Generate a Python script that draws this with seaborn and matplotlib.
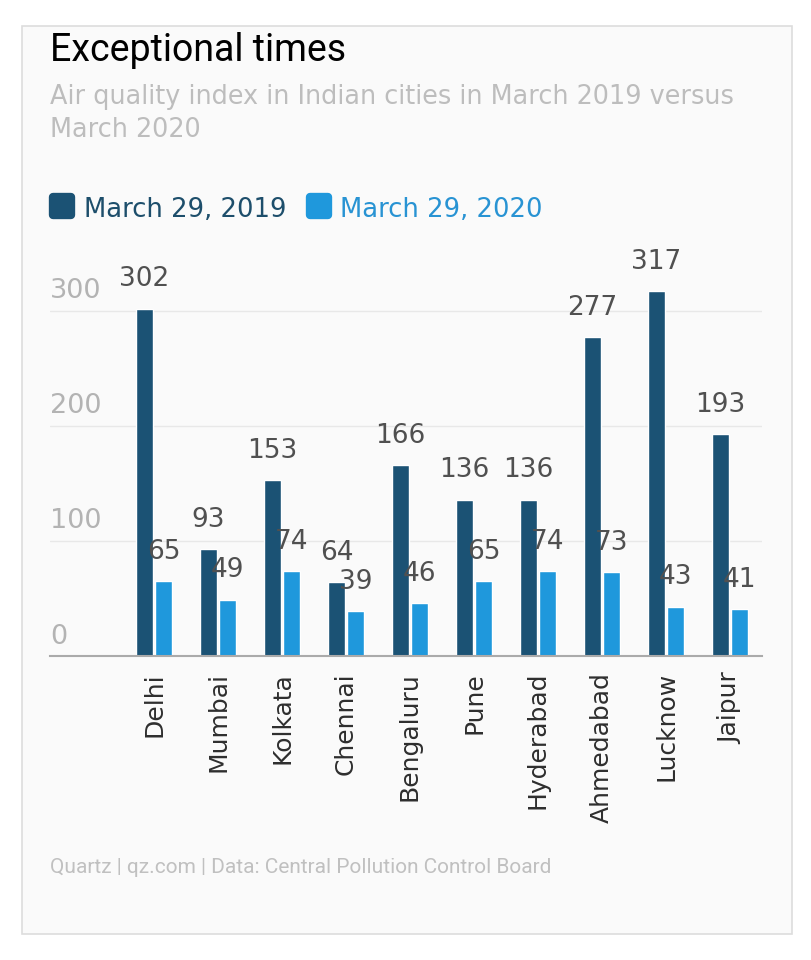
import matplotlib
matplotlib.use("Agg")
import matplotlib.pyplot as plt
import seaborn as sns
import pandas as pd
from matplotlib.patches import FancyBboxPatch, Rectangle
from matplotlib.transforms import blended_transform_factory, offset_copy

# ---- data ----
cities = ["Delhi", "Mumbai", "Kolkata", "Chennai", "Bengaluru", "Pune",
          "Hyderabad", "Ahmedabad", "Lucknow", "Jaipur"]
aqi_2019 = [302, 93, 153, 64, 166, 136, 136, 277, 317, 193]
aqi_2020 = [65, 49, 74, 39, 46, 65, 74, 73, 43, 41]
series = ["March 29, 2019", "March 29, 2020"]
y_ticks = [0, 100, 200, 300]

title = "Exceptional times"
subtitle_lines = ["Air quality index in Indian cities in March 2019 versus", "March 2020"]
footer = "Quartz | qz.com | Data: Central Pollution Control Board"

dark = "#1b5274"
light = "#1f98dc"
legend_text_colors = ["#1d4e6b", "#2893d3"]

df = pd.DataFrame({
    "city": cities * 2,
    "aqi": aqi_2019 + aqi_2020,
    "series": [series[0]] * len(cities) + [series[1]] * len(cities),
})

sns.set_theme(style="white")
plt.rcParams["font.family"] = ["DejaVu Sans"]

W, H = 811, 960
fig = plt.figure(figsize=(W / 100, H / 100), dpi=100)
fig.patch.set_facecolor("white")

card = Rectangle((22 / W, 1 - 934 / H), (792 - 22) / W, (934 - 26) / H,
                 transform=fig.transFigure, facecolor="#fafafa",
                 edgecolor="#dddddd", lw=1.2, zorder=-5)
fig.patches.append(card)

ax = fig.add_axes([50 / W, (H - 656) / H, (762 - 50) / W, (656 - 276) / H])
ax.set_facecolor("none")
ax.set_zorder(2)

sns.barplot(data=df, x="city", y="aqi", hue="series", order=cities,
            hue_order=series, palette=[dark, light], width=0.6, gap=0.1,
            saturation=1, legend=False, ax=ax, zorder=3)

ax.set_xlim(-1.625, 9.5)
ax.set_ylim(0, 330.4)

# bar value labels
for cont in ax.containers:
    for bar in cont:
        h = bar.get_height()
        ax.annotate(f"{h:.0f}", xy=(bar.get_x() + bar.get_width() / 2, h),
                    xytext=(0, 16), textcoords="offset points",
                    ha="center", va="baseline", fontsize=19, color="#505050",
                    zorder=5, annotation_clip=False)

# grid and y labels
ax.set_yticks(y_ticks)
ax.set_yticklabels([])
ax.grid(axis="y", color="#e8e8e8", lw=1, zorder=0)
ax.grid(axis="x", visible=False)
ax.set_axisbelow(True)
trans = offset_copy(blended_transform_factory(ax.transAxes, ax.transData),
                    fig=fig, x=0, y=9, units="points")
for t in y_ticks:
    ax.text(0, t, str(t), transform=trans, ha="left", va="baseline",
            fontsize=19.5, color="#b3b3b3")

for s in ["top", "right", "left"]:
    ax.spines[s].set_visible(False)
ax.spines["bottom"].set_color("#aaaaaa")
ax.spines["bottom"].set_linewidth(1.5)
ax.spines["bottom"].set_zorder(4)

ax.set_xticks(range(len(cities)))
ax.set_xticklabels(cities, rotation=90, fontsize=18, color="#2e2e2e")
ax.tick_params(axis="x", length=0, pad=11.5)
ax.tick_params(axis="y", length=0)
ax.set_xlabel("")
ax.set_ylabel("")

# titles
fig.text(50 / W, 1 - 61 / H, title, fontsize=27, family=["Roboto", "DejaVu Sans"],
         color="black", va="baseline", ha="left")
fig.text(50 / W, 1 - 104 / H, subtitle_lines[0], fontsize=18.4, color="#bdbdbd",
         va="baseline", ha="left")
fig.text(50 / W, 1 - 137 / H, subtitle_lines[1], fontsize=18.4, color="#bdbdbd",
         va="baseline", ha="left")

# legend
legend_boxes = [(50, 84), (307, 340)]
for (sx, tx), col, tcol, lab in zip(legend_boxes, [dark, light], legend_text_colors, series):
    sq = FancyBboxPatch((sx / W + 3 / W, 1 - 218 / H + 3 / H), 18 / W, 18 / H,
                        boxstyle="round,pad=0", transform=fig.transFigure,
                        facecolor=col, edgecolor=col, lw=6, joinstyle="round")
    fig.patches.append(sq)
    fig.text(tx / W, 1 - 217 / H, lab, fontsize=18.6, color=tcol,
             va="baseline", ha="left")

fig.text(50 / W, 1 - 873 / H, footer, fontsize=15, family=["Roboto", "DejaVu Sans"],
         color="#c0c0c0", va="baseline", ha="left")

fig.savefig("out.png", dpi=100, facecolor="white")
